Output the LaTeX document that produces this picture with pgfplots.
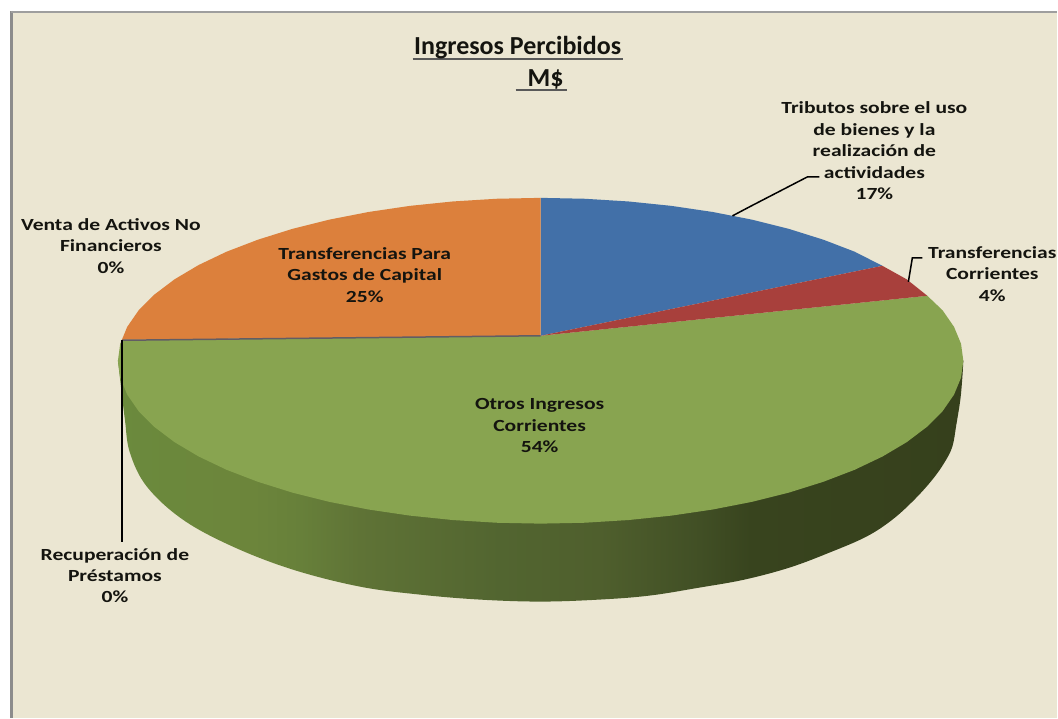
\documentclass[border=0pt]{standalone}
\usepackage{fontspec}
\setmainfont{Carlito}
\newfontfamily\lblfont[FakeStretch=1.27]{Carlito}
\usepackage{pgfplots}
\pgfplotsset{compat=1.18}

\definecolor{bg}{HTML}{EBE6D2}
\definecolor{cblue}{HTML}{4270A8}
\definecolor{cred}{HTML}{A8403C}
\definecolor{cgreen}{HTML}{88A450}
\definecolor{corange}{HTML}{DC803C}
\definecolor{txt}{HTML}{14140F}
\definecolor{sa}{HTML}{6B8A3D}
\definecolor{sb}{HTML}{6C853B}
\definecolor{sb2}{HTML}{67803A}
\definecolor{sc}{HTML}{5F7336}
\definecolor{sd}{HTML}{526530}
\definecolor{se}{HTML}{4F5F2D}
\definecolor{sf}{HTML}{414F25}
\definecolor{sg}{HTML}{38441E}
\definecolor{sh}{HTML}{36401C}

% side of the pie: the path's box runs from 25bp to 75bp
\pgfdeclarehorizontalshading{sideg}{100bp}{
  color(0bp)=(sa); color(25bp)=(sa); color(33bp)=(sb); color(35.8bp)=(sb2); color(39.3bp)=(sc);
  color(47.6bp)=(sd); color(53.5bp)=(se); color(59.4bp)=(sf); color(62.4bp)=(sg);
  color(75bp)=(sh); color(100bp)=(sh)}

\tikzset{lbl/.style={font=\fontsize{17bp}{21.5bp}\lblfont\bfseries, text=txt, align=center, inner sep=0pt}}

\begin{document}
\begin{tikzpicture}
\begin{axis}[
    scale only axis,
    width=1058bp, height=718bp,
    xmin=0, xmax=1058,
    ymin=0, ymax=718,
    y dir=reverse,
    axis lines=none,
    clip=false,
]
    % page and chart area
    \addplot[fill=white, draw=none] coordinates {(0,0) (1058,0) (1058,718) (0,718)} -- cycle;
    \addplot[fill=bg, draw=none] coordinates {(12,12) (1058,12) (1058,718) (12,718)} -- cycle;
    \addplot[draw=black!45, line width=3bp] coordinates {(12,11) (12,718)};
    \addplot[draw=black!38, line width=1.5bp] coordinates {(11,12) (1058,12)};

    % side wall
    \addplot[shade, shading=sideg, draw=none, smooth, tension=0.6] coordinates {
        (964,361) (963,378) (961,400) (957,425) (953,447) (945,463) (933,480) (915,500)
        (893,520) (867,537) (830,553) (790,568) (745,580) (700,588) (650,596) (600,600)
        (541,602) (480,600) (420,595) (360,587) (293,570) (233,547) (183,520) (147,487)
        (130,453) (125,420) (120,378) (118,361)
    } -- cycle;

    % Otros Ingresos Corrientes 54%
    \addplot[fill=cgreen, draw=none] coordinates {
        (541,336) (928,296) (943.3,310.6) (954.7,327.1) (961.7,344) (964,361)
        (961.7,378) (954.7,394.9) (943.3,411.4) (927.4,427.3) (907.3,442.5) (883.2,456.8)
        (855.3,470.1) (824,482.1) (789.6,492.9) (752.5,502.2) (713,509.9) (671.7,516)
        (628.9,520.4) (585.2,523.1) (541,524) (496.8,523.1) (453.1,520.4) (410.3,516)
        (369,509.9) (329.5,502.2) (292.4,492.9) (258,482.1) (226.7,470.1) (198.8,456.8)
        (174.7,442.5) (154.6,427.3) (138.7,411.4) (127.3,394.9) (120.3,378) (118,361)
        (120.3,344) (122,340)
    } -- cycle;
    % Tributos 17%
    \addplot[fill=cblue, draw=none] coordinates {
        (541,336) (541,198) (585.2,198.9) (628.9,201.6) (671.7,206) (713,212.1)
        (752.5,219.8) (789.6,229.1) (824,239.9) (855.3,251.9) (883,266)
    } -- cycle;
    % Transferencias Corrientes 4%
    \addplot[fill=cred, draw=none] coordinates {
        (541,336) (883,266) (907.3,279.5) (928,296)
    } -- cycle;
    % Transferencias Para Gastos de Capital 25%
    \addplot[fill=corange, draw=none] coordinates {
        (541,336) (122,340) (127.3,327.1) (138.7,310.6) (154.6,294.7) (174.7,279.5)
        (198.8,265.2) (226.7,251.9) (258,239.9) (292.4,229.1) (329.5,219.8) (369,212.1)
        (410.3,206) (453.1,201.6) (496.8,198.9) (541,198)
    } -- cycle;
    % the two 0% slices
    \addplot[draw=black!30!cblue!70!corange, line width=1.5bp] coordinates {(541,336) (122,340.5)};

    % leader lines
    \addplot[draw=black, line width=1.8bp] coordinates {(122,340) (122,542)};
    \addplot[draw=black, line width=1.5bp] coordinates {(733,216) (750,207) (808,177) (820,177)};
    \addplot[draw=black, line width=1.5bp] coordinates {(909,282) (913,258) (923,258)};

    % title underlines
    \addplot[draw=black!65, line width=2bp] coordinates {(413,59) (623,59)};
    \addplot[draw=black!65, line width=2bp] coordinates {(516,90) (567,90)};

    \node[font=\fontsize{26bp}{30bp}\selectfont\bfseries, text=txt, anchor=base, inner sep=0pt] at (axis cs:518,55) {Ingresos Percibidos};
    \node[font=\fontsize{26bp}{30bp}\selectfont\bfseries, text=txt, anchor=base, inner sep=0pt] at (axis cs:546,87) {M\$};

    \node[lbl] at (axis cs:875,151) {Tributos sobre el uso\\de bienes y la\\realización de\\actividades\\17\%};
    \node[lbl] at (axis cs:993,274) {Transferencias\\Corrientes\\4\%};
    \node[lbl] at (axis cs:111,246) {Venta de Activos No\\Financieros\\0\%};
    \node[lbl] at (axis cs:365,275) {Transferencias Para\\Gastos de Capital\\25\%};
    \node[lbl] at (axis cs:540,426) {Otros Ingresos\\Corrientes\\54\%};
    \node[lbl] at (axis cs:115,576) {Recuperación de\\Préstamos\\0\%};
\end{axis}
\end{tikzpicture}
\end{document}
